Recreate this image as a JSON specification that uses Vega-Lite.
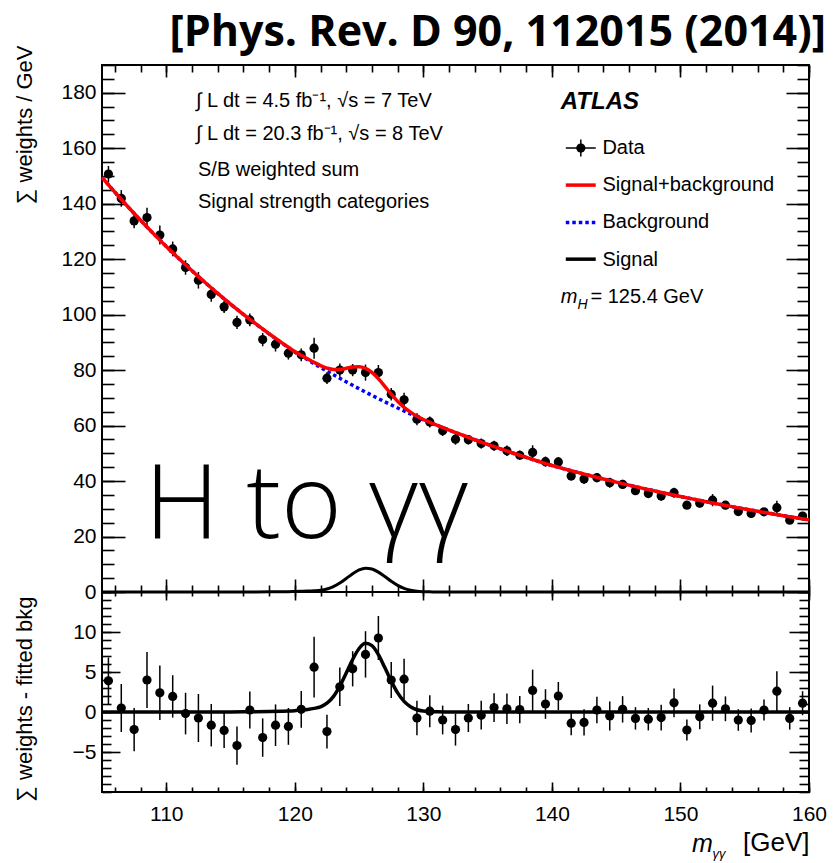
{
  "$schema": "https://vega.github.io/schema/vega-lite/v6.json",
  "background": "white",
  "padding": {"left": 12, "top": 11, "right": 2, "bottom": 5},
  "spacing": 0,
  "bounds": "flush",
  "config": {
    "view": {"stroke": "black", "strokeWidth": 2},
    "axis": {"grid": false, "domain": false, "tickColor": "black", "tickWidth": 1.6, "labelColor": "black", "labelFont": "Liberation Sans", "labelFontSize": 21, "titleFont": "Liberation Sans", "titleFontSize": 22, "titleFontWeight": "normal", "titleColor": "black", "labelFlush": false, "labelOverlap": false, "labelBound": false},
    "text": {"font": "Liberation Sans", "color": "black"}
  },
  "datasets": {
    "pts": [
      {"m": 105.5, "data": 150.7, "res": 3.9, "err": 2.9},
      {"m": 106.5, "data": 141.9, "res": 0.5, "err": 3.0},
      {"m": 107.5, "data": 133.8, "res": -2.2, "err": 2.7},
      {"m": 108.5, "data": 135.0, "res": 4.0, "err": 3.5},
      {"m": 109.5, "data": 128.7, "res": 2.4, "err": 3.4},
      {"m": 110.5, "data": 123.7, "res": 1.95, "err": 2.65},
      {"m": 111.5, "data": 117.0, "res": -0.2, "err": 2.6},
      {"m": 112.5, "data": 112.4, "res": -0.75, "err": 3.0},
      {"m": 113.5, "data": 107.3, "res": -1.65, "err": 2.65},
      {"m": 114.5, "data": 102.8, "res": -2.3, "err": 2.2},
      {"m": 115.5, "data": 97.2, "res": -4.2, "err": 2.4},
      {"m": 116.5, "data": 98.1, "res": 0.25, "err": 2.3},
      {"m": 117.5, "data": 91.0, "res": -3.2, "err": 2.4},
      {"m": 118.5, "data": 89.3, "res": -1.65, "err": 2.6},
      {"m": 119.5, "data": 86.1, "res": -1.8, "err": 2.3},
      {"m": 120.5, "data": 85.5, "res": 0.33, "err": 2.3},
      {"m": 121.5, "data": 87.9, "res": 5.6, "err": 3.8},
      {"m": 122.5, "data": 77.1, "res": -2.45, "err": 2.1},
      {"m": 123.5, "data": 80.0, "res": 3.15, "err": 2.4},
      {"m": 124.5, "data": 80.0, "res": 5.4, "err": 2.2},
      {"m": 125.5, "data": 79.1, "res": 7.2, "err": 2.9},
      {"m": 126.5, "data": 79.1, "res": 9.25, "err": 2.75},
      {"m": 127.5, "data": 71.3, "res": 4.0, "err": 2.25},
      {"m": 128.5, "data": 69.3, "res": 4.1, "err": 2.55},
      {"m": 129.5, "data": 62.3, "res": -0.75, "err": 2.15},
      {"m": 130.5, "data": 61.3, "res": 0.1, "err": 2.0},
      {"m": 131.5, "data": 58.1, "res": -1.0, "err": 1.8},
      {"m": 132.5, "data": 55.1, "res": -2.2, "err": 2.0},
      {"m": 133.5, "data": 54.9, "res": -0.75, "err": 1.75},
      {"m": 134.5, "data": 53.5, "res": -0.4, "err": 1.8},
      {"m": 135.5, "data": 52.7, "res": 0.55, "err": 1.8},
      {"m": 136.5, "data": 50.9, "res": 0.4, "err": 1.9},
      {"m": 137.5, "data": 49.3, "res": 0.3, "err": 1.7},
      {"m": 138.5, "data": 50.3, "res": 2.7, "err": 2.6},
      {"m": 139.5, "data": 47.0, "res": 1.0, "err": 1.85},
      {"m": 140.5, "data": 46.9, "res": 2.0, "err": 1.75},
      {"m": 141.5, "data": 41.8, "res": -1.4, "err": 1.5},
      {"m": 142.5, "data": 40.7, "res": -1.3, "err": 1.65},
      {"m": 143.5, "data": 41.2, "res": 0.25, "err": 1.65},
      {"m": 144.5, "data": 39.4, "res": -0.5, "err": 1.8},
      {"m": 145.5, "data": 38.8, "res": 0.33, "err": 1.65},
      {"m": 146.5, "data": 36.5, "res": -0.8, "err": 1.4},
      {"m": 147.5, "data": 35.5, "res": -0.9, "err": 1.4},
      {"m": 148.5, "data": 34.6, "res": -0.7, "err": 1.6},
      {"m": 149.5, "data": 35.8, "res": 1.15, "err": 1.8},
      {"m": 150.5, "data": 31.3, "res": -2.25, "err": 1.3},
      {"m": 151.5, "data": 32.0, "res": -0.6, "err": 1.55},
      {"m": 152.5, "data": 33.1, "res": 1.1, "err": 2.2},
      {"m": 153.5, "data": 31.3, "res": 0.4, "err": 1.55},
      {"m": 154.5, "data": 29.0, "res": -1.0, "err": 1.35},
      {"m": 155.5, "data": 28.3, "res": -1.05, "err": 1.5},
      {"m": 156.5, "data": 28.9, "res": 0.25, "err": 1.3},
      {"m": 157.5, "data": 30.4, "res": 2.6, "err": 2.5},
      {"m": 158.5, "data": 25.9, "res": -0.8, "err": 1.4},
      {"m": 159.5, "data": 27.4, "res": 1.1, "err": 1.5}
    ],
    "curve": [
      {"m": 105, "bkg": 149.5, "sig": 0, "sb": 149.5},
      {"m": 106, "bkg": 144.15, "sig": 0, "sb": 144.15},
      {"m": 107, "bkg": 138.99, "sig": 0, "sb": 138.99},
      {"m": 108, "bkg": 134.01, "sig": 0, "sb": 134.01},
      {"m": 109, "bkg": 129.21, "sig": 0, "sb": 129.21},
      {"m": 110, "bkg": 124.58, "sig": 0, "sb": 124.58},
      {"m": 111, "bkg": 120.12, "sig": 0, "sb": 120.12},
      {"m": 112, "bkg": 115.82, "sig": 0, "sb": 115.82},
      {"m": 113, "bkg": 111.67, "sig": 0, "sb": 111.67},
      {"m": 114, "bkg": 107.67, "sig": 0, "sb": 107.67},
      {"m": 115, "bkg": 103.81, "sig": 0.01, "sb": 103.82},
      {"m": 116, "bkg": 100.09, "sig": 0.02, "sb": 100.11},
      {"m": 117, "bkg": 96.51, "sig": 0.03, "sb": 96.54},
      {"m": 118, "bkg": 93.05, "sig": 0.05, "sb": 93.10},
      {"m": 119, "bkg": 89.72, "sig": 0.09, "sb": 89.81},
      {"m": 119.5, "bkg": 88.10, "sig": 0.12, "sb": 88.22},
      {"m": 120, "bkg": 86.51, "sig": 0.17, "sb": 86.68},
      {"m": 120.5, "bkg": 85.08, "sig": 0.24, "sb": 85.32},
      {"m": 121, "bkg": 83.72, "sig": 0.32, "sb": 84.04},
      {"m": 121.5, "bkg": 82.34, "sig": 0.45, "sb": 82.79},
      {"m": 122, "bkg": 80.98, "sig": 0.65, "sb": 81.63},
      {"m": 122.5, "bkg": 79.64, "sig": 1.1, "sb": 80.74},
      {"m": 123, "bkg": 78.33, "sig": 1.92, "sb": 80.25},
      {"m": 123.5, "bkg": 77.04, "sig": 3.23, "sb": 80.27},
      {"m": 124, "bkg": 75.77, "sig": 4.87, "sb": 80.64},
      {"m": 124.5, "bkg": 74.52, "sig": 6.57, "sb": 81.09},
      {"m": 125, "bkg": 73.29, "sig": 7.94, "sb": 81.23},
      {"m": 125.5, "bkg": 72.08, "sig": 8.58, "sb": 80.66},
      {"m": 126, "bkg": 70.90, "sig": 8.3, "sb": 79.2},
      {"m": 126.5, "bkg": 69.73, "sig": 7.18, "sb": 76.91},
      {"m": 127, "bkg": 68.58, "sig": 5.56, "sb": 74.14},
      {"m": 127.5, "bkg": 67.45, "sig": 3.86, "sb": 71.31},
      {"m": 128, "bkg": 66.34, "sig": 2.39, "sb": 68.73},
      {"m": 128.5, "bkg": 65.25, "sig": 1.33, "sb": 66.58},
      {"m": 129, "bkg": 64.17, "sig": 0.66, "sb": 64.83},
      {"m": 129.5, "bkg": 63.11, "sig": 0.28, "sb": 63.39},
      {"m": 130, "bkg": 62.07, "sig": 0.12, "sb": 62.19},
      {"m": 130.5, "bkg": 61.10, "sig": 0.06, "sb": 61.16},
      {"m": 131, "bkg": 60.21, "sig": 0.03, "sb": 60.24},
      {"m": 132, "bkg": 58.38, "sig": 0.01, "sb": 58.39},
      {"m": 133, "bkg": 56.61, "sig": 0, "sb": 56.61},
      {"m": 134, "bkg": 54.89, "sig": 0, "sb": 54.89},
      {"m": 135, "bkg": 53.22, "sig": 0, "sb": 53.22},
      {"m": 136, "bkg": 51.60, "sig": 0, "sb": 51.60},
      {"m": 137, "bkg": 50.03, "sig": 0, "sb": 50.03},
      {"m": 138, "bkg": 48.51, "sig": 0, "sb": 48.51},
      {"m": 139, "bkg": 47.04, "sig": 0, "sb": 47.04},
      {"m": 140, "bkg": 45.60, "sig": 0, "sb": 45.60},
      {"m": 141, "bkg": 44.34, "sig": 0, "sb": 44.34},
      {"m": 142, "bkg": 43.11, "sig": 0, "sb": 43.11},
      {"m": 143, "bkg": 41.92, "sig": 0, "sb": 41.92},
      {"m": 144, "bkg": 40.76, "sig": 0, "sb": 40.76},
      {"m": 145, "bkg": 39.63, "sig": 0, "sb": 39.63},
      {"m": 146, "bkg": 38.53, "sig": 0, "sb": 38.53},
      {"m": 147, "bkg": 37.46, "sig": 0, "sb": 37.46},
      {"m": 148, "bkg": 36.42, "sig": 0, "sb": 36.42},
      {"m": 149, "bkg": 35.41, "sig": 0, "sb": 35.41},
      {"m": 150, "bkg": 34.43, "sig": 0, "sb": 34.43},
      {"m": 151, "bkg": 33.48, "sig": 0, "sb": 33.48},
      {"m": 152, "bkg": 32.55, "sig": 0, "sb": 32.55},
      {"m": 153, "bkg": 31.65, "sig": 0, "sb": 31.65},
      {"m": 154, "bkg": 30.77, "sig": 0, "sb": 30.77},
      {"m": 155, "bkg": 29.92, "sig": 0, "sb": 29.92},
      {"m": 156, "bkg": 29.09, "sig": 0, "sb": 29.09},
      {"m": 157, "bkg": 28.29, "sig": 0, "sb": 28.29},
      {"m": 158, "bkg": 27.50, "sig": 0, "sb": 27.50},
      {"m": 159, "bkg": 26.74, "sig": 0, "sb": 26.74},
      {"m": 160, "bkg": 26.00, "sig": 0, "sb": 26.00}
    ]
  },
  "vconcat": [
    {
      "width": 707,
      "height": 527,
      "title": {"text": "[Phys. Rev. D 90, 112015 (2014)]", "anchor": "end", "frame": "group", "dx": 17, "font": "Open Sans", "fontWeight": "bold", "fontSize": 43, "offset": -10, "color": "black"},
      "resolve": {"axis": {"x": "independent", "y": "independent"}},
      "layer": [
        {
          "data": {"name": "pts"},
          "mark": {"type": "errorbar", "ticks": false, "thickness": 1.5, "color": "black"},
          "encoding": {
            "x": {"field": "m", "type": "quantitative", "scale": {"domain": [105, 160], "nice": false, "zero": false}, "axis": null},
            "y": {"field": "data", "type": "quantitative", "scale": {"domain": [0, 190], "nice": false, "zero": false}, "axis": null},
            "yError": {"field": "err"}
          }
        },
        {
          "data": {"name": "pts"},
          "mark": {"type": "circle", "size": 85, "color": "black", "opacity": 1},
          "encoding": {
            "x": {"field": "m", "type": "quantitative", "scale": {"domain": [105, 160], "nice": false, "zero": false}, "axis": {"orient": "top", "values": [110, 120, 130, 140, 150, 160], "labels": false, "tickSize": -12, "title": null}},
            "y": {"field": "data", "type": "quantitative", "scale": {"domain": [0, 190], "nice": false, "zero": false}, "axis": {"orient": "right", "values": [0, 20, 40, 60, 80, 100, 120, 140, 160, 180], "labels": false, "tickSize": -23, "title": null}}
          }
        },
        {
          "data": {"name": "curve"},
          "mark": {"type": "line", "color": "#0000ff", "strokeWidth": 3.5, "strokeDash": [3.5, 3], "interpolate": "monotone"},
          "encoding": {
            "x": {"field": "m", "type": "quantitative", "scale": {"domain": [105, 160], "nice": false, "zero": false}, "axis": {"orient": "bottom", "values": [110, 120, 130, 140, 150, 160], "labels": false, "tickSize": -13, "title": null}},
            "y": {"field": "bkg", "type": "quantitative", "scale": {"domain": [0, 190], "nice": false, "zero": false}, "axis": {"orient": "left", "values": [0, 20, 40, 60, 80, 100, 120, 140, 160, 180], "ticks": false, "labelPadding": 6, "title": "∑ weights / GeV", "titleAnchor": "end", "titleAlign": "right", "titleAngle": 270, "titleX": -66, "titleY": -20, "titleBaseline": "bottom"}}
          }
        },
        {
          "data": {"name": "curve"},
          "mark": {"type": "line", "color": "#ff0000", "strokeWidth": 3.5, "interpolate": "monotone"},
          "encoding": {
            "x": {"field": "m", "type": "quantitative", "scale": {"domain": [105, 160], "nice": false, "zero": false}, "axis": {"orient": "bottom", "values": [106, 108, 110, 112, 114, 116, 118, 120, 122, 124, 126, 128, 130, 132, 134, 136, 138, 140, 142, 144, 146, 148, 150, 152, 154, 156, 158, 160], "labels": false, "tickSize": -7, "title": null}},
            "y": {"field": "sb", "type": "quantitative", "scale": {"domain": [0, 190], "nice": false, "zero": false}, "axis": {"orient": "left", "values": [0, 20, 40, 60, 80, 100, 120, 140, 160, 180], "labels": false, "tickSize": -23, "title": null}}
          }
        },
        {
          "data": {"name": "curve"},
          "mark": {"type": "line", "color": "black", "strokeWidth": 3, "interpolate": "monotone"},
          "encoding": {
            "x": {"field": "m", "type": "quantitative", "scale": {"domain": [105, 160], "nice": false, "zero": false}, "axis": {"orient": "top", "values": [106, 108, 110, 112, 114, 116, 118, 120, 122, 124, 126, 128, 130, 132, 134, 136, 138, 140, 142, 144, 146, 148, 150, 152, 154, 156, 158, 160], "labels": false, "tickSize": -7, "title": null}},
            "y": {"field": "sig", "type": "quantitative", "scale": {"domain": [0, 190], "nice": false, "zero": false}, "axis": {"orient": "left", "values": [0, 5, 10, 15, 20, 25, 30, 35, 40, 45, 50, 55, 60, 65, 70, 75, 80, 85, 90, 95, 100, 105, 110, 115, 120, 125, 130, 135, 140, 145, 150, 155, 160, 165, 170, 175, 180, 185, 190], "labels": false, "tickSize": -12, "title": null}}
          }
        },
        {
          "data": {"name": "pts"},
          "mark": {"type": "circle", "opacity": 0},
          "encoding": {
            "x": {"field": "m", "type": "quantitative", "scale": {"domain": [105, 160], "nice": false, "zero": false}, "axis": null},
            "y": {"field": "data", "type": "quantitative", "scale": {"domain": [0, 190], "nice": false, "zero": false}, "axis": {"orient": "right", "values": [0, 5, 10, 15, 20, 25, 30, 35, 40, 45, 50, 55, 60, 65, 70, 75, 80, 85, 90, 95, 100, 105, 110, 115, 120, 125, 130, 135, 140, 145, 150, 155, 160, 165, 170, 175, 180, 185, 190], "labels": false, "tickSize": -12, "title": null}}
          }
        },
        {
          "data": {"values": [{}]},
          "mark": {"type": "text", "fontSize": 20, "align": "left", "baseline": "alphabetic"},
          "encoding": {
            "x": {"datum": 112.31, "type": "quantitative", "scale": {"domain": [105, 160], "nice": false, "zero": false}, "axis": null},
            "y": {"datum": 175.0, "type": "quantitative", "scale": {"domain": [0, 190], "nice": false, "zero": false}, "axis": null},
            "text": {"value": "∫ L dt = 4.5 fb⁻¹, √s = 7 TeV"}
          }
        },
        {
          "data": {"values": [{}]},
          "mark": {"type": "text", "fontSize": 20, "align": "left", "baseline": "alphabetic"},
          "encoding": {
            "x": {"datum": 112.31, "type": "quantitative", "scale": {"domain": [105, 160], "nice": false, "zero": false}, "axis": null},
            "y": {"datum": 163.1, "type": "quantitative", "scale": {"domain": [0, 190], "nice": false, "zero": false}, "axis": null},
            "text": {"value": "∫ L dt = 20.3 fb⁻¹, √s = 8 TeV"}
          }
        },
        {
          "data": {"values": [{}]},
          "mark": {"type": "text", "fontSize": 20, "align": "left", "baseline": "alphabetic"},
          "encoding": {
            "x": {"datum": 112.47, "type": "quantitative", "scale": {"domain": [105, 160], "nice": false, "zero": false}, "axis": null},
            "y": {"datum": 150.1, "type": "quantitative", "scale": {"domain": [0, 190], "nice": false, "zero": false}, "axis": null},
            "text": {"value": "S/B weighted sum"}
          }
        },
        {
          "data": {"values": [{}]},
          "mark": {"type": "text", "fontSize": 20, "align": "left", "baseline": "alphabetic"},
          "encoding": {
            "x": {"datum": 112.47, "type": "quantitative", "scale": {"domain": [105, 160], "nice": false, "zero": false}, "axis": null},
            "y": {"datum": 138.4, "type": "quantitative", "scale": {"domain": [0, 190], "nice": false, "zero": false}, "axis": null},
            "text": {"value": "Signal strength categories"}
          }
        },
        {
          "data": {"values": [{}]},
          "mark": {"type": "text", "fontSize": 24, "fontWeight": "bold", "fontStyle": "italic", "align": "left", "baseline": "alphabetic"},
          "encoding": {
            "x": {"datum": 140.69, "type": "quantitative", "scale": {"domain": [105, 160], "nice": false, "zero": false}, "axis": null},
            "y": {"datum": 174.2, "type": "quantitative", "scale": {"domain": [0, 190], "nice": false, "zero": false}, "axis": null},
            "text": {"value": "ATLAS"}
          }
        },
        {
          "data": {"values": [{}]},
          "mark": {"type": "rule", "color": "black", "strokeWidth": 1.5},
          "encoding": {
            "x": {"datum": 141.08, "type": "quantitative", "scale": {"domain": [105, 160], "nice": false, "zero": false}, "axis": null},
            "x2": {"datum": 143.41},
            "y": {"datum": 160.07, "type": "quantitative", "scale": {"domain": [0, 190], "nice": false, "zero": false}, "axis": null}
          }
        },
        {
          "data": {"values": [{}]},
          "mark": {"type": "rule", "color": "black", "strokeWidth": 1.5},
          "encoding": {
            "x": {"datum": 142.25, "type": "quantitative", "scale": {"domain": [105, 160], "nice": false, "zero": false}, "axis": null},
            "y": {"datum": 157.0, "type": "quantitative", "scale": {"domain": [0, 190], "nice": false, "zero": false}, "axis": null},
            "y2": {"datum": 163.14}
          }
        },
        {
          "data": {"values": [{}]},
          "mark": {"type": "circle", "size": 85, "color": "black", "opacity": 1},
          "encoding": {
            "x": {"datum": 142.25, "type": "quantitative", "scale": {"domain": [105, 160], "nice": false, "zero": false}, "axis": null},
            "y": {"datum": 160.07, "type": "quantitative", "scale": {"domain": [0, 190], "nice": false, "zero": false}, "axis": null}
          }
        },
        {
          "data": {"values": [{}]},
          "mark": {"type": "rule", "color": "#ff0000", "strokeWidth": 3.5},
          "encoding": {
            "x": {"datum": 141.08, "type": "quantitative", "scale": {"domain": [105, 160], "nice": false, "zero": false}, "axis": null},
            "x2": {"datum": 143.41},
            "y": {"datum": 146.7, "type": "quantitative", "scale": {"domain": [0, 190], "nice": false, "zero": false}, "axis": null}
          }
        },
        {
          "data": {"values": [{}]},
          "mark": {"type": "rule", "color": "#0000ff", "strokeWidth": 3.5, "strokeDash": [3.5, 3]},
          "encoding": {
            "x": {"datum": 141.08, "type": "quantitative", "scale": {"domain": [105, 160], "nice": false, "zero": false}, "axis": null},
            "x2": {"datum": 143.41},
            "y": {"datum": 133.2, "type": "quantitative", "scale": {"domain": [0, 190], "nice": false, "zero": false}, "axis": null}
          }
        },
        {
          "data": {"values": [{}]},
          "mark": {"type": "rule", "color": "black", "strokeWidth": 3.5},
          "encoding": {
            "x": {"datum": 141.08, "type": "quantitative", "scale": {"domain": [105, 160], "nice": false, "zero": false}, "axis": null},
            "x2": {"datum": 143.41},
            "y": {"datum": 120.0, "type": "quantitative", "scale": {"domain": [0, 190], "nice": false, "zero": false}, "axis": null}
          }
        },
        {
          "data": {"values": [{}]},
          "mark": {"type": "text", "fontSize": 20, "align": "left", "baseline": "alphabetic"},
          "encoding": {
            "x": {"datum": 143.93, "type": "quantitative", "scale": {"domain": [105, 160], "nice": false, "zero": false}, "axis": null},
            "y": {"datum": 157.9, "type": "quantitative", "scale": {"domain": [0, 190], "nice": false, "zero": false}, "axis": null},
            "text": {"value": "Data"}
          }
        },
        {
          "data": {"values": [{}]},
          "mark": {"type": "text", "fontSize": 20, "align": "left", "baseline": "alphabetic"},
          "encoding": {
            "x": {"datum": 143.93, "type": "quantitative", "scale": {"domain": [105, 160], "nice": false, "zero": false}, "axis": null},
            "y": {"datum": 144.7, "type": "quantitative", "scale": {"domain": [0, 190], "nice": false, "zero": false}, "axis": null},
            "text": {"value": "Signal+background"}
          }
        },
        {
          "data": {"values": [{}]},
          "mark": {"type": "text", "fontSize": 20, "align": "left", "baseline": "alphabetic"},
          "encoding": {
            "x": {"datum": 143.93, "type": "quantitative", "scale": {"domain": [105, 160], "nice": false, "zero": false}, "axis": null},
            "y": {"datum": 131.1, "type": "quantitative", "scale": {"domain": [0, 190], "nice": false, "zero": false}, "axis": null},
            "text": {"value": "Background"}
          }
        },
        {
          "data": {"values": [{}]},
          "mark": {"type": "text", "fontSize": 20, "align": "left", "baseline": "alphabetic"},
          "encoding": {
            "x": {"datum": 143.93, "type": "quantitative", "scale": {"domain": [105, 160], "nice": false, "zero": false}, "axis": null},
            "y": {"datum": 117.6, "type": "quantitative", "scale": {"domain": [0, 190], "nice": false, "zero": false}, "axis": null},
            "text": {"value": "Signal"}
          }
        },
        {
          "data": {"values": [{}]},
          "mark": {"type": "text", "fontSize": 20, "fontStyle": "italic", "align": "left", "baseline": "alphabetic"},
          "encoding": {
            "x": {"datum": 140.69, "type": "quantitative", "scale": {"domain": [105, 160], "nice": false, "zero": false}, "axis": null},
            "y": {"datum": 104.3, "type": "quantitative", "scale": {"domain": [0, 190], "nice": false, "zero": false}, "axis": null},
            "text": {"value": "m"}
          }
        },
        {
          "data": {"values": [{}]},
          "mark": {"type": "text", "fontSize": 14, "fontStyle": "italic", "align": "left", "baseline": "alphabetic"},
          "encoding": {
            "x": {"datum": 142.0, "type": "quantitative", "scale": {"domain": [105, 160], "nice": false, "zero": false}, "axis": null},
            "y": {"datum": 102.1, "type": "quantitative", "scale": {"domain": [0, 190], "nice": false, "zero": false}, "axis": null},
            "text": {"value": "H"}
          }
        },
        {
          "data": {"values": [{}]},
          "mark": {"type": "text", "fontSize": 20, "align": "left", "baseline": "alphabetic"},
          "encoding": {
            "x": {"datum": 143.0, "type": "quantitative", "scale": {"domain": [105, 160], "nice": false, "zero": false}, "axis": null},
            "y": {"datum": 104.3, "type": "quantitative", "scale": {"domain": [0, 190], "nice": false, "zero": false}, "axis": null},
            "text": {"value": "= 125.4 GeV"}
          }
        },
        {
          "data": {"values": [{}]},
          "mark": {"type": "text", "font": "Open Sans", "fontWeight": 300, "fontSize": 104, "align": "left", "baseline": "alphabetic"},
          "encoding": {
            "x": {"datum": 108.3, "type": "quantitative", "scale": {"domain": [105, 160], "nice": false, "zero": false}, "axis": null},
            "y": {"datum": 19.3, "type": "quantitative", "scale": {"domain": [0, 190], "nice": false, "zero": false}, "axis": null},
            "text": {"value": "H to γγ"}
          }
        }
      ]
    },
    {
      "width": 707,
      "height": 200,
      "resolve": {"axis": {"x": "independent", "y": "independent"}},
      "layer": [
        {
          "data": {"name": "pts"},
          "mark": {"type": "errorbar", "ticks": false, "thickness": 1.5, "color": "black"},
          "encoding": {
            "x": {"field": "m", "type": "quantitative", "scale": {"domain": [105, 160], "nice": false, "zero": false}, "axis": null},
            "y": {"field": "res", "type": "quantitative", "scale": {"domain": [-10, 15], "nice": false, "zero": false}, "axis": null},
            "yError": {"field": "err"}
          }
        },
        {
          "data": {"name": "pts"},
          "mark": {"type": "circle", "size": 85, "color": "black", "opacity": 1},
          "encoding": {
            "x": {"field": "m", "type": "quantitative", "scale": {"domain": [105, 160], "nice": false, "zero": false}, "axis": {"orient": "bottom", "values": [110, 120, 130, 140, 150, 160], "labels": false, "tickSize": -10, "title": null}},
            "y": {"field": "res", "type": "quantitative", "scale": {"domain": [-10, 15], "nice": false, "zero": false}, "axis": {"orient": "left", "values": [-5, 0, 5, 10], "labels": false, "tickSize": -18, "title": null}}
          }
        },
        {
          "data": {"name": "curve"},
          "mark": {"type": "line", "color": "black", "strokeWidth": 3.5, "interpolate": "monotone"},
          "encoding": {
            "x": {"field": "m", "type": "quantitative", "scale": {"domain": [105, 160], "nice": false, "zero": false}, "axis": {"orient": "bottom", "values": [110, 120, 130, 140, 150, 160], "ticks": false, "labelPadding": 11, "title": "[GeV]", "titleFontSize": 26, "titleAnchor": "end", "titleAlign": "right", "titleY": 58, "titleBaseline": "alphabetic"}},
            "y": {"field": "sig", "type": "quantitative", "scale": {"domain": [-10, 15], "nice": false, "zero": false}, "axis": {"orient": "left", "values": [-5, 0, 5, 10], "ticks": false, "labelPadding": 6, "title": "∑ weights - fitted bkg", "titleAnchor": "end", "titleAlign": "right", "titleAngle": 270, "titleX": -66, "titleY": 4, "titleBaseline": "bottom"}}
          }
        },
        {
          "data": {"name": "pts"},
          "mark": {"type": "circle", "opacity": 0},
          "encoding": {
            "x": {"field": "m", "type": "quantitative", "scale": {"domain": [105, 160], "nice": false, "zero": false}, "axis": {"orient": "bottom", "values": [106, 108, 110, 112, 114, 116, 118, 120, 122, 124, 126, 128, 130, 132, 134, 136, 138, 140, 142, 144, 146, 148, 150, 152, 154, 156, 158, 160], "labels": false, "tickSize": -5, "title": null}},
            "y": {"field": "res", "type": "quantitative", "scale": {"domain": [-10, 15], "nice": false, "zero": false}, "axis": {"orient": "left", "values": [-10, -9, -8, -7, -6, -5, -4, -3, -2, -1, 0, 1, 2, 3, 4, 5, 6, 7, 8, 9, 10, 11, 12, 13, 14, 15], "labels": false, "tickSize": -9, "title": null}}
          }
        },
        {
          "data": {"name": "pts"},
          "mark": {"type": "circle", "opacity": 0},
          "encoding": {
            "x": {"field": "m", "type": "quantitative", "scale": {"domain": [105, 160], "nice": false, "zero": false}, "axis": {"orient": "top", "values": [110, 120, 130, 140, 150, 160], "labels": false, "tickSize": -8, "title": null}},
            "y": {"field": "res", "type": "quantitative", "scale": {"domain": [-10, 15], "nice": false, "zero": false}, "axis": {"orient": "right", "values": [-5, 0, 5, 10], "labels": false, "tickSize": -20, "title": null}}
          }
        },
        {
          "data": {"name": "pts"},
          "mark": {"type": "circle", "opacity": 0},
          "encoding": {
            "x": {"field": "m", "type": "quantitative", "scale": {"domain": [105, 160], "nice": false, "zero": false}, "axis": {"orient": "top", "values": [106, 108, 110, 112, 114, 116, 118, 120, 122, 124, 126, 128, 130, 132, 134, 136, 138, 140, 142, 144, 146, 148, 150, 152, 154, 156, 158, 160], "labels": false, "tickSize": -4, "title": null}},
            "y": {"field": "res", "type": "quantitative", "scale": {"domain": [-10, 15], "nice": false, "zero": false}, "axis": {"orient": "right", "values": [-10, -9, -8, -7, -6, -5, -4, -3, -2, -1, 0, 1, 2, 3, 4, 5, 6, 7, 8, 9, 10, 11, 12, 13, 14, 15], "labels": false, "tickSize": -10, "title": null}}
          }
        },
        {
          "data": {"values": [{}]},
          "mark": {"type": "text", "fontSize": 25, "fontStyle": "italic", "align": "left", "baseline": "alphabetic"},
          "encoding": {
            "x": {"datum": 150.9, "type": "quantitative", "scale": {"domain": [105, 160], "nice": false, "zero": false}, "axis": null},
            "y": {"datum": -17.5, "type": "quantitative", "scale": {"domain": [-10, 15], "nice": false, "zero": false}, "axis": null},
            "text": {"value": "m"}
          }
        },
        {
          "data": {"values": [{}]},
          "mark": {"type": "text", "fontSize": 13, "fontStyle": "italic", "align": "left", "baseline": "alphabetic"},
          "encoding": {
            "x": {"datum": 152.5, "type": "quantitative", "scale": {"domain": [105, 160], "nice": false, "zero": false}, "axis": null},
            "y": {"datum": -18.2, "type": "quantitative", "scale": {"domain": [-10, 15], "nice": false, "zero": false}, "axis": null},
            "text": {"value": "γγ"}
          }
        }
      ]
    }
  ]
}
